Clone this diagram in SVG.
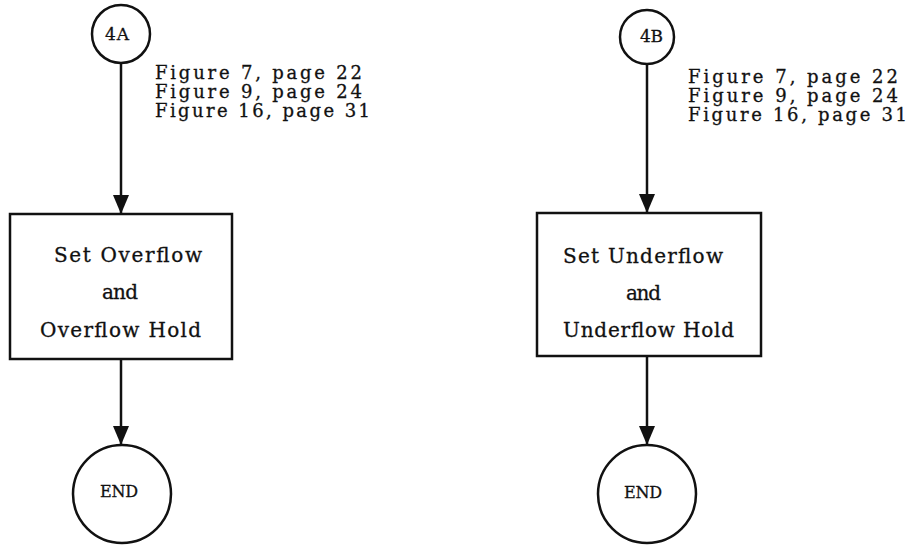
<svg xmlns="http://www.w3.org/2000/svg" width="914" height="548" viewBox="0 0 914 548">
<style>
.shape{fill:#fff;stroke:#111;stroke-width:2.5}
.line{stroke:#111;stroke-width:2.5;fill:none}
.t{font-family:"DejaVu Serif","Liberation Serif",serif;font-size:20px;fill:#111;stroke:#111;stroke-width:0.3}
.lbl{font-family:"DejaVu Serif","Liberation Serif",serif;font-size:18px;fill:#111;stroke:#111;stroke-width:0.3}
.c{font-family:"DejaVu Serif","Liberation Serif",serif;font-size:17px;fill:#111;stroke:#111;stroke-width:0.3}
.e{font-family:"DejaVu Serif","Liberation Serif",serif;font-size:16px;fill:#111;stroke:#111;stroke-width:0.3}
</style>
<defs>
<marker id="arr" markerUnits="userSpaceOnUse" markerWidth="20" markerHeight="16" refX="19" refY="8" orient="auto" viewBox="0 0 20 16">
<path d="M0,0 L19,8 L0,16 Z" fill="#111"/>
</marker>
</defs>
<g id="connectors">
<line class="line" x1="121" y1="63" x2="121" y2="214" marker-end="url(#arr)"/>
<line class="line" x1="121" y1="359" x2="121" y2="445" marker-end="url(#arr)"/>
<line class="line" x1="647" y1="64" x2="647" y2="213" marker-end="url(#arr)"/>
<line class="line" x1="647" y1="356" x2="647" y2="445" marker-end="url(#arr)"/>
</g>
<g id="node-4A">
<circle class="shape" cx="121" cy="34" r="29"/>
<text class="c" x="105" y="40" textLength="24" lengthAdjust="spacing">4A</text>
</g>
<g id="label-4A">
<text class="lbl" x="155" y="79" textLength="207" lengthAdjust="spacing">Figure 7, page 22</text>
<text class="lbl" x="155" y="98" textLength="207" lengthAdjust="spacing">Figure 9, page 24</text>
<text class="lbl" x="155" y="117" textLength="215" lengthAdjust="spacing">Figure 16, page 31</text>
</g>
<g id="node-overflow">
<rect class="shape" x="10" y="214" width="222" height="145"/>
<text class="t" x="54" y="262" textLength="148" lengthAdjust="spacing">Set Overflow</text>
<text class="t" x="102" y="299" textLength="36" lengthAdjust="spacing">and</text>
<text class="t" x="40" y="337" textLength="161" lengthAdjust="spacing">Overflow Hold</text>
</g>
<g id="node-end-A">
<circle class="shape" cx="122" cy="494" r="49"/>
<text class="e" x="100" y="497" textLength="38" lengthAdjust="spacing">END</text>
</g>
<g id="node-4B">
<circle class="shape" cx="647" cy="37" r="27"/>
<text class="c" x="640" y="42" textLength="23" lengthAdjust="spacing">4B</text>
</g>
<g id="label-4B">
<text class="lbl" x="688" y="83" textLength="210" lengthAdjust="spacing">Figure 7, page 22</text>
<text class="lbl" x="688" y="102" textLength="210" lengthAdjust="spacing">Figure 9, page 24</text>
<text class="lbl" x="688" y="121" textLength="219" lengthAdjust="spacing">Figure 16, page 31</text>
</g>
<g id="node-underflow">
<rect class="shape" x="537" y="213" width="224" height="143"/>
<text class="t" x="563" y="263" textLength="160" lengthAdjust="spacing">Set Underflow</text>
<text class="t" x="626" y="300" textLength="35" lengthAdjust="spacing">and</text>
<text class="t" x="563" y="337" textLength="171" lengthAdjust="spacing">Underflow Hold</text>
</g>
<g id="node-end-B">
<circle class="shape" cx="647" cy="494" r="49"/>
<text class="e" x="624" y="498" textLength="38" lengthAdjust="spacing">END</text>
</g>
</svg>
